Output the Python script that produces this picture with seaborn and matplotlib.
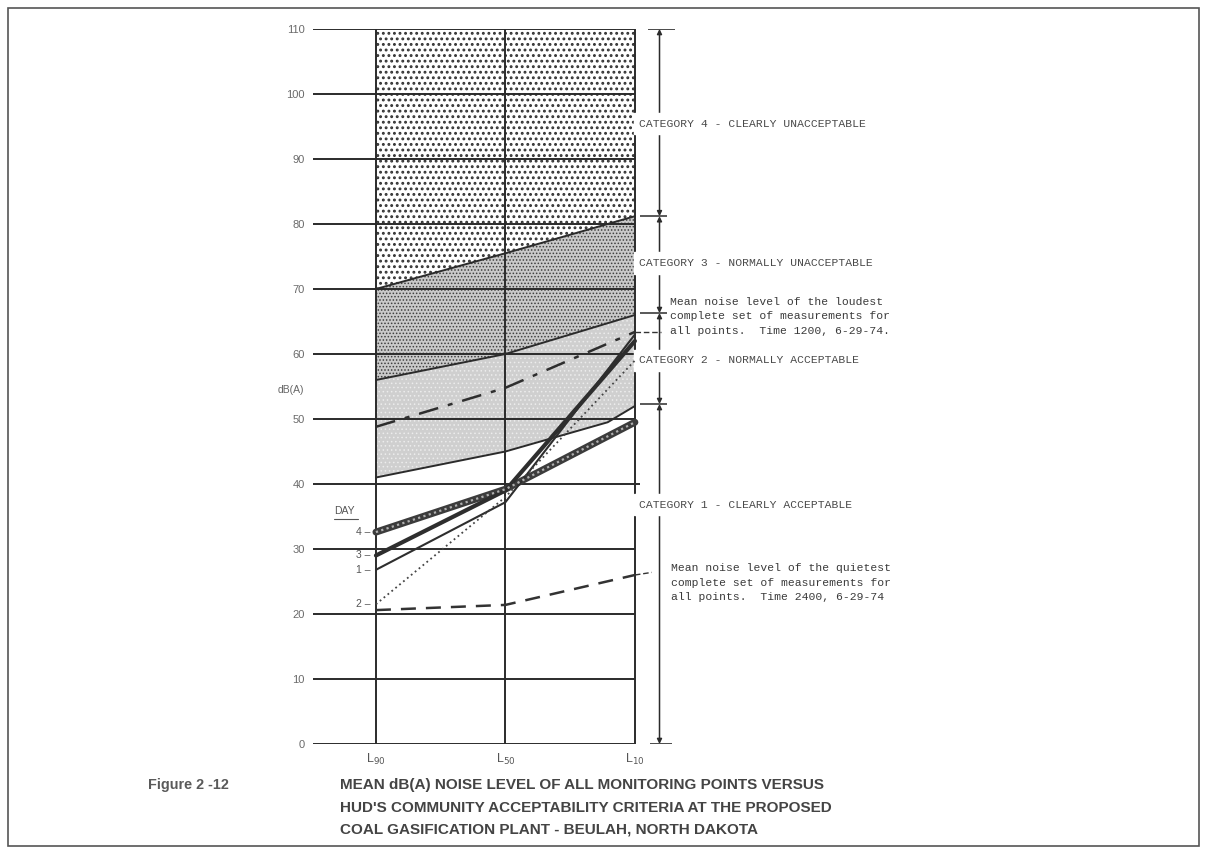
import numpy as np
import pandas as pd
import matplotlib
matplotlib.use("Agg")
import matplotlib.pyplot as plt
import seaborn as sns
from matplotlib import font_manager
from matplotlib.patches import Rectangle

# posicoes no eixo x (L90, L50, L10)
positions = [0, 1, 2]
pos_labels = ["L$_{90}$", "L$_{50}$", "L$_{10}$"]
yticks = [0, 10, 20, 30, 40, 50, 60, 70, 80, 90, 100, 110]

# limites das categorias HUD
cat4_lower = [70.0, 75.5, 81.2]
cat3_lower = [56.0, 60.0, 66.0]
cat2_pos = [0, 1, 1.79, 2]
cat2_upper = [56.0, 60.0, 64.8, 66.0]
cat2_lower = [41.0, 45.0, 49.5, 52.0]

# niveis medios por dia
day4 = [32.6, 39.2, 49.5]
day3 = [29.0, 39.0, 62.0]
day1 = [26.8, 37.2, 63.0]
day2 = [21.5, 38.0, 59.0]
loudest = [48.8, 54.8, 63.4]
quietest = [20.6, 21.4, 26.0]

day_names = ["4", "3", "1", "2"]
category_bounds = [110, 81.2, 66.3, 52.3, 0]

sns.set_style("white")
names = {f.name for f in font_manager.fontManager.ttflist}
narrow = "Liberation Sans Narrow" if "Liberation Sans Narrow" in names else "Liberation Sans"
cap_size = 14.2 if narrow == "Liberation Sans Narrow" else 11
plt.rcParams["font.family"] = ["DejaVu Sans"]
plt.rcParams["hatch.linewidth"] = 1.3
mono = "Liberation Mono"
ink = "#2b2b2b"

fig = plt.figure(figsize=(12.06, 8.5), dpi=100)
ax = fig.add_axes([313 / 1206, 1 - 744 / 850, 399.6 / 1206, 715 / 850])
ax.set_xlim(-0.486, 2.6)
ax.set_ylim(0, 110)
for s in ax.spines.values():
    s.set_visible(False)

# regioes sombreadas
f4 = ax.fill_between(positions, cat4_lower, 110, facecolor="white", edgecolor="#333333",
                     hatch="...", linewidth=0, zorder=1)
f3 = ax.fill_between(positions, cat3_lower, cat4_lower, facecolor="#c9c9c9", edgecolor="#3e3e3e",
                     hatch=".....", linewidth=0, zorder=1)
f2 = ax.fill_between(cat2_pos, cat2_lower, cat2_upper, facecolor="#cfcfcf", edgecolor="#ececec",
                     hatch="....", linewidth=0, zorder=1)
for f, hw in [(f4, 1.3), (f3, 0.7), (f2, 0.6)]:
    if hasattr(f, "set_hatch_linewidth"):
        f.set_hatch_linewidth(hw)

# grelha
ax.hlines([v for v in yticks if v != 40], -0.486, 2.0, color=ink, lw=1.4, zorder=2)
ax.hlines(40, -0.486, 2.04, color=ink, lw=1.4, zorder=2)
ax.vlines(positions, 0, 110, color=ink, lw=1.4, zorder=2)

# fronteiras das categorias
ax.plot(positions, cat4_lower, color=ink, lw=1.4, zorder=3)
ax.plot(positions, cat3_lower, color=ink, lw=1.4, zorder=3)
ax.plot(cat2_pos, cat2_lower, color=ink, lw=1.4, zorder=3)

df = pd.DataFrame({
    "pos": positions * 6,
    "db": day4 + day3 + day1 + day2 + loudest + quietest,
    "serie": sum([[n] * 3 for n in ["day4", "day3", "day1", "day2", "loud", "quiet"]], []),
})

def linha(nome, **kw):
    sns.lineplot(data=df[df.serie == nome], x="pos", y="db", ax=ax, estimator=None,
                 legend=False, zorder=4, **kw)

linha("day4", color="#3c3c3c", lw=5)
sns.lineplot(data=df[df.serie == "day4"], x="pos", y="db", ax=ax, estimator=None,
             legend=False, color="#b0b0b0", lw=1.6, linestyle=(0, (1, 1.5)), zorder=5)
linha("day3", color="#2e2e2e", lw=3)
linha("day1", color="#2e2e2e", lw=1.5)
linha("day2", color="#444444", lw=1.3, linestyle=(0, (1, 1.8)))
linha("loud", color="#2e2e2e", lw=1.8, linestyle=(0, (8, 4, 2, 4)))
linha("quiet", color="#333333", lw=1.8, linestyle=(0, (6, 4)))

# eixos
ax.set_yticks(yticks)
ax.set_yticklabels([str(v) for v in yticks], color="#6a6a6a", fontsize=8, family=narrow)
ax.set_xticks(positions)
ax.set_xticklabels(pos_labels, color="#555555", fontsize=9, family=narrow)
ax.tick_params(axis="both", length=0)
ax.tick_params(axis="y", pad=6)
ax.tick_params(axis="x", pad=6)
ax.set_xlabel("")
ax.set_ylabel("")
ax.text(-0.66, 54.5, "dB(A)", fontsize=7.5, color="#666666", family=narrow,
        ha="center", va="center")

# etiquetas dos dias
ax.text(-0.24, 35.0, "DAY", fontsize=7.5, color="#555555", family=narrow, ha="center", va="bottom")
ax.plot([-0.32, -0.14], [34.6, 34.6], color="#555555", lw=0.8, clip_on=False)
for nome, val in zip(day_names, [day4[0], day3[0], day1[0], day2[0]]):
    ax.text(-0.04, val, nome + " \u2013", fontsize=7.5, color="#555555", family=narrow,
            ha="right", va="center")

# barra das categorias (linhas de cota)
xb = 2.19
for top, bot in zip(category_bounds[:-1], category_bounds[1:]):
    ax.annotate("", xy=(xb, top), xytext=(xb, bot),
                arrowprops=dict(arrowstyle="<|-|>", color=ink, lw=1.1,
                                mutation_scale=7, shrinkA=0, shrinkB=0))
ax.hlines(110, 2.10, 2.31, color=ink, lw=1.2)
ax.hlines(0, 2.12, 2.29, color=ink, lw=1.2)
ax.hlines(category_bounds[1:4], 2.04, 2.25, color=ink, lw=1.1)

cats = [
    (95.4, "CATEGORY 4 - CLEARLY UNACCEPTABLE"),
    (74.0, "CATEGORY 3 - NORMALLY UNACCEPTABLE"),
    (59.0, "CATEGORY 2 - NORMALLY ACCEPTABLE"),
    (36.8, "CATEGORY 1 - CLEARLY ACCEPTABLE"),
]
for y, s in cats:
    ax.text(2.035, y, s, fontsize=8.2, color="#4a4a4a", family=mono, ha="left", va="center",
            backgroundcolor="white")

# notas das medias
ax.plot([2.0, 2.2], [loudest[2], loudest[2]], color="#333333", lw=1.0,
        linestyle=(0, (4, 2)), clip_on=False)
ax.text(2.27, 65.8, "Mean noise level of the loudest\ncomplete set of measurements for\n"
        "all points.  Time 1200, 6-29-74.", fontsize=8.2, color="#3a3a3a", family=mono,
        ha="left", va="center", linespacing=1.55)
ax.plot([2.0, 2.13], [quietest[2], quietest[2] + 0.4], color="#333333", lw=1.0,
        linestyle=(0, (4, 2)), clip_on=False)
ax.text(2.28, 24.8, "Mean noise level of the quietest\ncomplete set of measurements for\n"
        "all points.  Time 2400, 6-29-74", fontsize=8.2, color="#3a3a3a", family=mono,
        ha="left", va="center", linespacing=1.55)

# legenda da figura
fig.text(148 / 1206, 1 - 785 / 850, "Figure 2 -12", fontsize=cap_size - 0.6, color="#5a5a5a",
         family=narrow, fontweight="bold", ha="left", va="center")
caption = ["MEAN dB(A) NOISE LEVEL OF ALL MONITORING POINTS VERSUS",
           "HUD'S COMMUNITY ACCEPTABILITY CRITERIA AT THE PROPOSED",
           "COAL GASIFICATION PLANT - BEULAH, NORTH DAKOTA"]
for i, linha_txt in enumerate(caption):
    fig.text(340 / 1206, 1 - (785 + 22.5 * i) / 850, linha_txt, fontsize=cap_size,
             color="#444444", family=narrow, fontweight="bold", ha="left", va="center")

# moldura
fig.add_artist(Rectangle((8 / 1206, 4 / 850), 1191 / 1206, 838 / 850, transform=fig.transFigure,
                         fill=False, edgecolor="#555555", lw=1.2))

fig.savefig("out.png", dpi=100)
